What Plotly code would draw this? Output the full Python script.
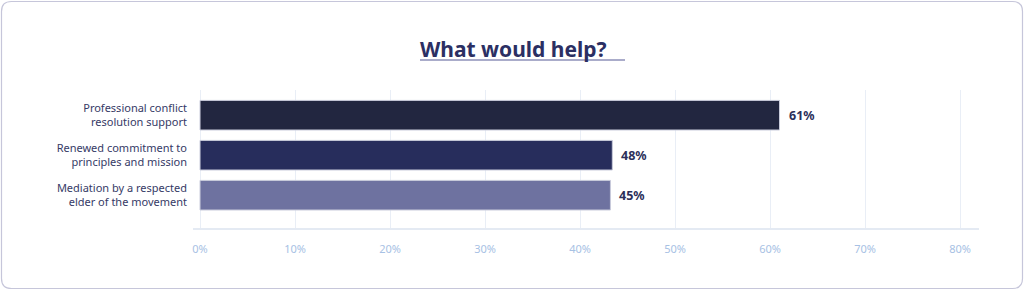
import plotly.graph_objects as go

categories = ["Professional conflict<br>resolution support",
              "Renewed commitment to<br>principles and mission",
              "Mediation by a respected<br>elder of the movement"]
bar_values = [61, 43.4, 43.2]
value_labels = ["61%", "48%", "45%"]
bar_colors = ["#222640", "#272d5c", "#6e72a0"]
tick_vals = [0, 10, 20, 30, 40, 50, 60, 70, 80]
tick_text = ["0%", "10%", "20%", "30%", "40%", "50%", "60%", "70%", "80%"]

W, H = 1024, 290
L, R, T, B = 193, 45, 90, 62
pw, ph = W - L - R, H - T - B

def px(x):
    return (x - L) / pw

def py(y):
    return (H - B - y) / ph

FONT = "Noto Sans"

fig = go.Figure()
fig.add_trace(go.Bar(
    y=categories, x=bar_values, orientation="h",
    marker=dict(color=bar_colors, line=dict(color="#c9cbdb", width=1)),
    width=0.74, hoverinfo="skip",
))

# rounded card border
x0, x1, y0, y1, r = 1.5, 1022.5, 1.5, 288.5, 10
rx, ry = r / pw, r / ph
path = (f"M {px(x0)+rx} {py(y0)} L {px(x1)-rx} {py(y0)} "
        f"Q {px(x1)} {py(y0)} {px(x1)} {py(y0)-ry} "
        f"L {px(x1)} {py(y1)+ry} Q {px(x1)} {py(y1)} {px(x1)-rx} {py(y1)} "
        f"L {px(x0)+rx} {py(y1)} Q {px(x0)} {py(y1)} {px(x0)} {py(y1)+ry} "
        f"L {px(x0)} {py(y0)-ry} Q {px(x0)} {py(y0)} {px(x0)+rx} {py(y0)} Z")

shapes = [
    dict(type="path", xref="paper", yref="paper", path=path,
         line=dict(color="#c6c6da", width=1.2), layer="below"),
    dict(type="line", xref="paper", yref="paper",
         x0=px(420), x1=px(625), y0=py(60), y1=py(60),
         line=dict(color="#8e90b8", width=1.5)),
]

annotations = [dict(text="<b>What would help?</b>", xref="paper", yref="paper",
                    x=px(513), y=py(49), xanchor="center", yanchor="middle",
                    showarrow=False,
                    font=dict(family=FONT, size=21, color="#2b2f63"))]
for cat, v, lab in zip(categories, bar_values, value_labels):
    annotations.append(dict(text=f"<b>{lab}</b>", x=v, y=cat, xref="x", yref="y",
                            xanchor="left", yanchor="middle", xshift=7,
                            showarrow=False,
                            font=dict(family=FONT, size=12.5, color="#2b2f5a")))

fig.update_layout(
    width=W, height=H,
    margin=dict(l=L, r=R, t=T, b=B),
    paper_bgcolor="white", plot_bgcolor="white",
    showlegend=False,
    shapes=shapes,
    annotations=annotations,
    xaxis=dict(range=[-0.74, 82.0], tickvals=tick_vals, ticktext=tick_text,
               showgrid=True, gridcolor="#e9eef6", gridwidth=1,
               zeroline=False, showline=True, linecolor="#e4eaf3", linewidth=1.5,
               ticks="outside", ticklen=10, tickcolor="rgba(0,0,0,0)",
               tickfont=dict(family=FONT, size=11, color="#a7c1e4"),
               fixedrange=True),
    yaxis=dict(autorange=False, range=[2.82, -0.63], showgrid=False,
               zeroline=False, showline=False, ticks="", ticklabelstandoff=5,
               tickfont=dict(family=FONT, size=11, color="#363a66"),
               fixedrange=True),
)

fig.write_html("out.html", config={"displayModeBar": False})
